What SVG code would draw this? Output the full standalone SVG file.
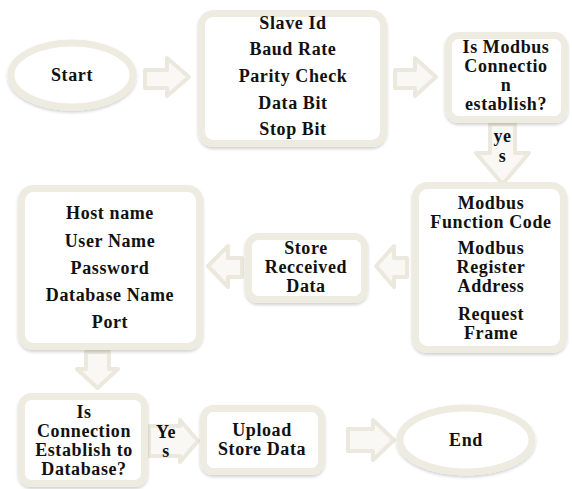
<svg xmlns="http://www.w3.org/2000/svg" width="572" height="489" viewBox="0 0 572 489">
<style>
.box{fill:#ffffff;stroke:#EEECE1;stroke-width:7;filter:url(#sh)}
.ell{fill:#ffffff;stroke:#EEECE1;stroke-width:7;filter:url(#sh)}
.arr{fill:#F9F8F4;stroke:#EBE8DD;stroke-width:4;stroke-linejoin:round}
text{font-weight:bold;font-size:18px;letter-spacing:0.6px;fill:#111111;text-anchor:middle;dominant-baseline:central}
</style>
<defs>
<filter id="sh" x="-10%" y="-10%" width="120%" height="130%">
<feDropShadow dx="0" dy="2" stdDeviation="1.5" flood-color="#000" flood-opacity="0.18"/>
</filter>
</defs>
<rect width="572" height="489" fill="#ffffff"/>
<g font-family="Liberation Serif, Times New Roman, serif">
<g id="connectors">
<polygon class="arr" points="145,70 167,70 167,58 189,77 167,96 167,88 145,88"/>
<polygon class="arr" points="395,70 415,70 415,58 436,77 415,96 415,88 395,88"/>
<polygon class="arr" points="490,124 515,124 515,153 529,153 502.5,184 476,153 490,153"/>
<text x="502.5" y="136">ye</text>
<text x="502.5" y="156">s</text>
<polygon class="arr" points="407,258 394,258 394,246 376,266 394,287 394,277 407,277"/>
<polygon class="arr" points="242,258 228,258 228,246 208,266 228,287 228,277 242,277"/>
<polygon class="arr" points="86,352 109,352 109,369 118,369 97.5,388 77,369 86,369"/>
<polygon class="arr" points="149,426 180,426 180,420 198,441 180,462 180,456 149,456"/>
<text x="166" y="432">Ye</text>
<text x="166" y="451">s</text>
<polygon class="arr" points="348,429 373,429 373,420 394,440 373,460 373,451 348,451"/>
</g>
<g id="start">
<ellipse class="ell" cx="72" cy="75" rx="61" ry="32"/>
<text x="72" y="75">Start</text>
</g>
<g id="serial-settings">
<rect class="box" x="201.5" y="13.5" width="182" height="130" rx="12"/>
<text x="293" y="23">Slave Id</text>
<text x="293" y="49">Baud Rate</text>
<text x="293" y="76">Parity Check</text>
<text x="293" y="103">Data Bit</text>
<text x="293" y="129">Stop Bit</text>
</g>
<g id="modbus-check">
<rect class="box" x="448.5" y="35.5" width="116" height="84" rx="10"/>
<text x="506" y="47">Is Modbus</text>
<text x="506" y="66">Connectio</text>
<text x="506" y="85">n</text>
<text x="506" y="104">establish?</text>
</g>
<g id="modbus-request">
<rect class="box" x="415.5" y="185.5" width="148" height="164" rx="12"/>
<text x="491" y="203">Modbus</text>
<text x="491" y="222">Function Code</text>
<text x="491" y="248">Modbus</text>
<text x="491" y="267">Register</text>
<text x="491" y="286">Address</text>
<text x="491" y="314">Request</text>
<text x="491" y="333">Frame</text>
</g>
<g id="store">
<rect class="box" x="248.5" y="236.5" width="116" height="63" rx="10"/>
<text x="306" y="248">Store</text>
<text x="306" y="267">Recceived</text>
<text x="306" y="286">Data</text>
</g>
<g id="db-settings">
<rect class="box" x="21.5" y="188.5" width="178" height="158" rx="12"/>
<text x="110" y="213">Host name</text>
<text x="110" y="241">User Name</text>
<text x="110" y="268">Password</text>
<text x="110" y="295">Database Name</text>
<text x="110" y="322">Port</text>
</g>
<g id="db-check">
<rect class="box" x="21.5" y="396.5" width="123" height="87" rx="10"/>
<text x="84" y="412">Is</text>
<text x="84" y="431">Connection</text>
<text x="84" y="450">Establish to</text>
<text x="84" y="469">Database?</text>
</g>
<g id="upload">
<rect class="box" x="203.5" y="408.5" width="118" height="63" rx="10"/>
<text x="262" y="430">Upload</text>
<text x="262" y="449">Store Data</text>
</g>
<g id="end">
<ellipse class="ell" cx="466" cy="440" rx="66" ry="32"/>
<text x="466" y="440">End</text>
</g>
</g>
</svg>
